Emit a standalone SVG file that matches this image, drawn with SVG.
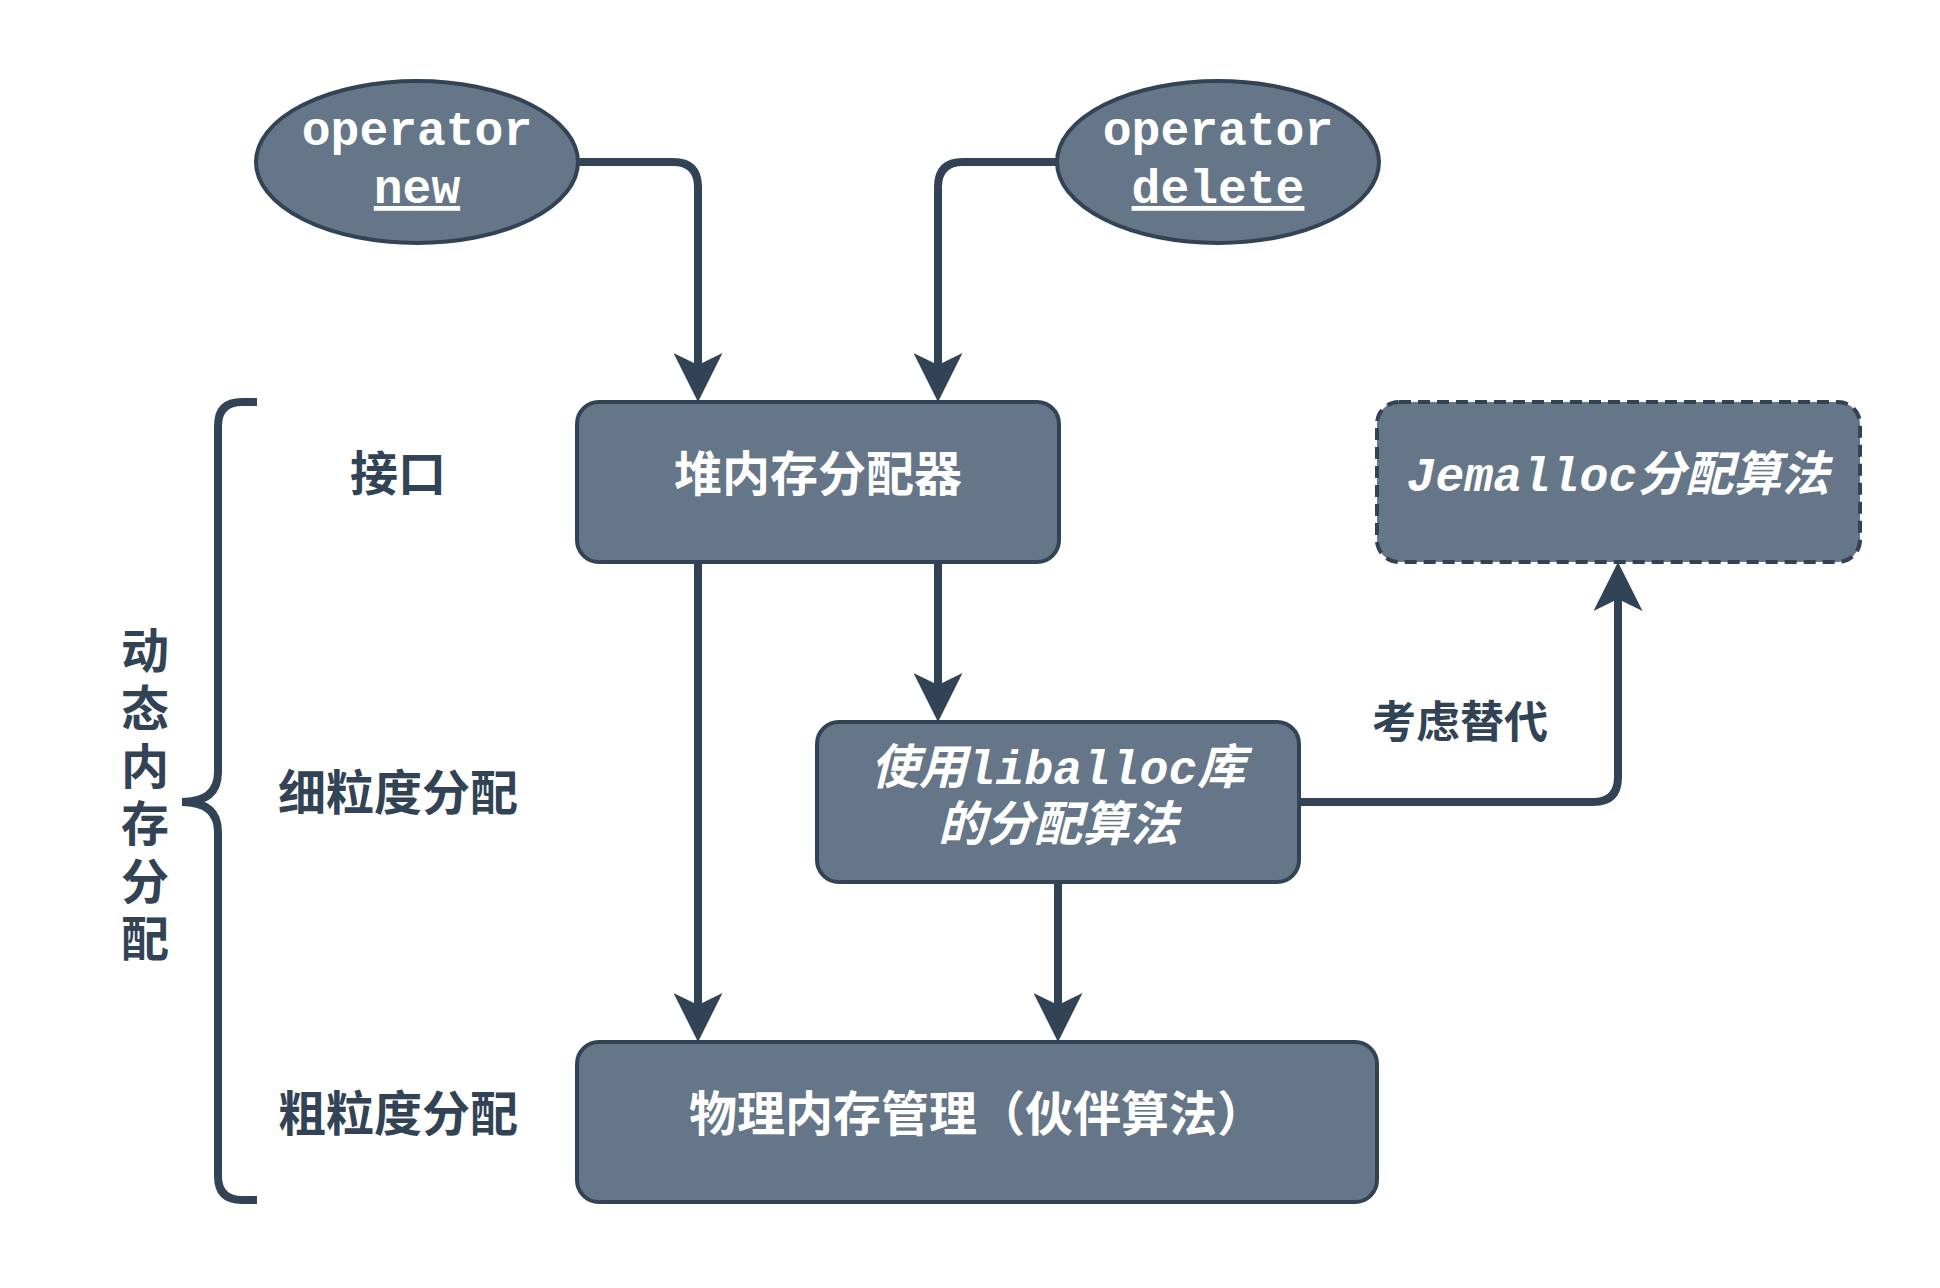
<svg xmlns="http://www.w3.org/2000/svg" width="1940" height="1288" viewBox="0 0 1940 1288">
<defs>
<style>
.node{fill:#647687;stroke:#314354;stroke-width:4}
.dash{stroke-dasharray:12 7}
.wt{fill:#ffffff;font-family:"Noto Sans CJK SC","Noto Sans",sans-serif;font-weight:bold;font-size:48px;text-anchor:middle;dominant-baseline:central}
.mono{fill:#ffffff;font-family:"Liberation Mono","Noto Sans CJK SC",monospace;font-weight:bold;font-size:48px;text-anchor:middle}
.it{font-style:italic;dominant-baseline:central}
.lbl{fill:#314354;font-family:"Noto Sans CJK SC","Noto Sans",sans-serif;font-weight:bold;font-size:48px;text-anchor:middle;dominant-baseline:central}
.edge{fill:none;stroke:#314354;stroke-width:8}
</style>
<marker id="arr" viewBox="0 0 49 49" markerUnits="userSpaceOnUse" markerWidth="49" markerHeight="49" refX="12" refY="24.5" orient="auto">
<path d="M0,0 L49,24.5 L0,49 L12,24.5 Z" fill="#314354"/>
</marker>
</defs>
<rect width="1940" height="1288" fill="#ffffff"/>
<g id="brace">
<path d="M257,402 H242 Q218,402 218,426 V772 Q218,802 182,802 Q218,802 218,832 V1176 Q218,1200 242,1200 H257" fill="none" stroke="#314354" stroke-width="8"/>
<text class="lbl" x="145" y="799" writing-mode="vertical-rl" letter-spacing="9.6" style="text-orientation:upright">动态内存分配</text>
</g>
<g id="labels">
<text class="lbl" x="398" y="470">接口</text>
<text class="lbl" x="398" y="789">细粒度分配</text>
<text class="lbl" x="398" y="1110">粗粒度分配</text>
</g>
<g id="connectors">
<path class="edge" d="M578,162 H673 Q698,162 698,187 V365" marker-end="url(#arr)"/>
<path class="edge" d="M1057,162 H963 Q938,162 938,187 V365" marker-end="url(#arr)"/>
<path class="edge" d="M698,562 V1005" marker-end="url(#arr)"/>
<path class="edge" d="M938,562 V685" marker-end="url(#arr)"/>
<path class="edge" d="M1058,882 V1005" marker-end="url(#arr)"/>
<path class="edge" d="M1299,802 H1593 Q1618,802 1618,777 V599" marker-end="url(#arr)"/>
<text class="lbl" x="1460" y="719" style="font-size:44px">考虑替代</text>
</g>
<g id="op-new">
<ellipse class="node" cx="417" cy="162" rx="161" ry="81"/>
<text class="mono"><tspan x="417" y="145">operator</tspan><tspan x="417" y="203" text-decoration="underline">new</tspan></text>
</g>
<g id="op-delete">
<ellipse class="node" cx="1218" cy="162" rx="161" ry="81"/>
<text class="mono"><tspan x="1218" y="145">operator</tspan><tspan x="1218" y="203" text-decoration="underline">delete</tspan></text>
</g>
<g id="heap">
<rect class="node" x="577" y="402" width="482" height="160" rx="22"/>
<text class="wt" x="818" y="470">堆内存分配器</text>
</g>
<g id="jemalloc">
<rect class="node dash" x="1377" y="402" width="483" height="160" rx="22"/>
<text class="mono it" x="1618" y="478">Jemalloc分配算法</text>
</g>
<g id="liballoc">
<rect class="node" x="817" y="722" width="482" height="160" rx="22"/>
<text class="mono it"><tspan x="1058" y="771">使用liballoc库</tspan><tspan x="1058" y="828">的分配算法</tspan></text>
</g>
<g id="physical">
<rect class="node" x="577" y="1042" width="800" height="160" rx="22"/>
<text class="wt" x="977" y="1110">物理内存管理（伙伴算法）</text>
</g>
</svg>
